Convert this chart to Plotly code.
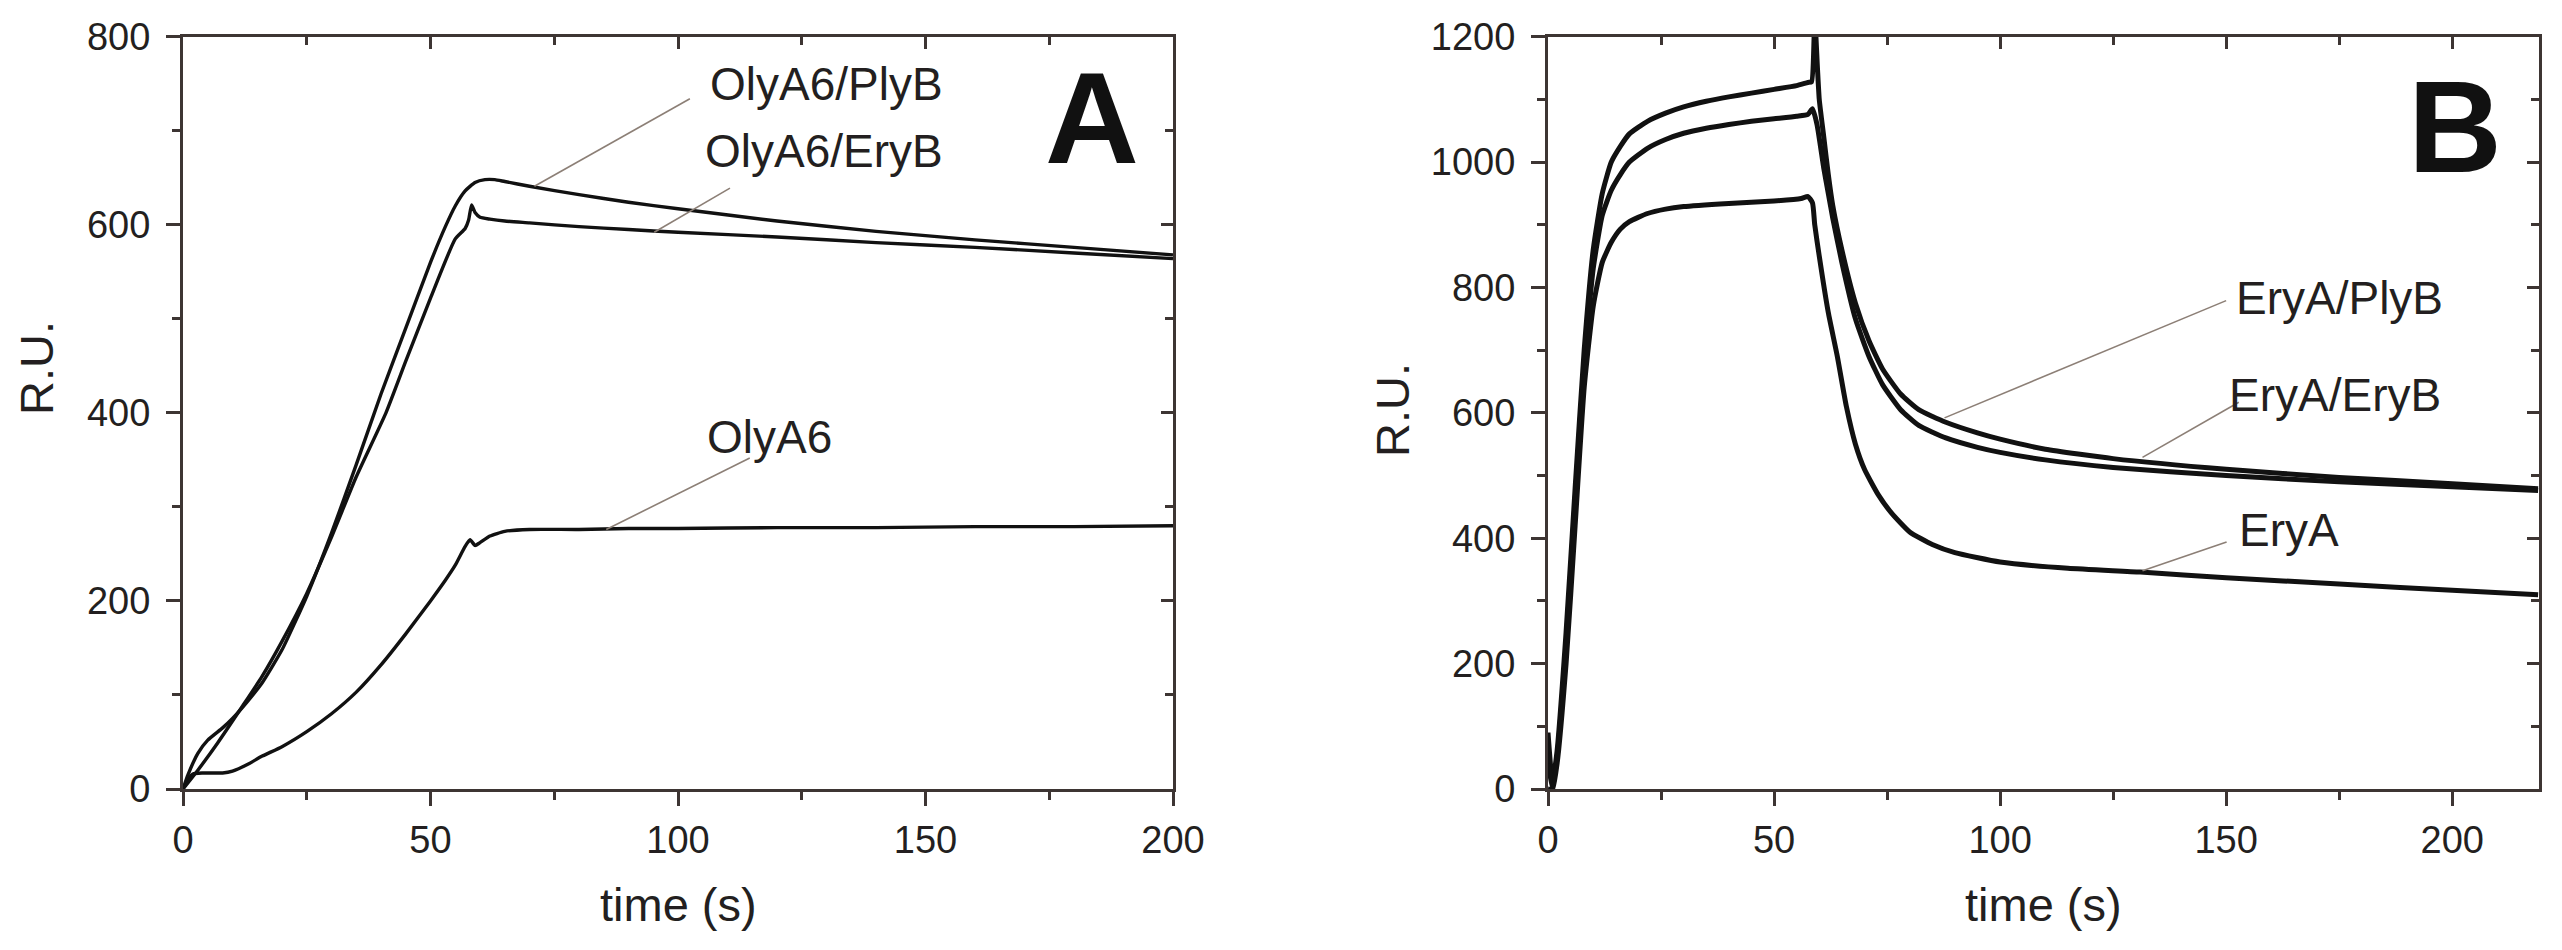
import plotly.graph_objects as go

# ---------------- Panel A data ----------------
a_olya6_t = [0, 1, 2, 4, 6, 8, 10, 13, 16, 20, 25, 30, 35, 40, 45, 50, 53, 55, 57, 58, 59, 60, 62, 65, 70, 80, 90, 100, 120, 140, 160, 180, 200]
a_olya6_y = [0, 10, 16, 17, 17, 17, 19, 26, 35, 45, 61, 80, 103, 132, 165, 200, 222, 238, 258, 265, 259, 262, 269, 274, 276, 276, 277, 277, 278, 278, 279, 279, 280]

a_plyb_t = [0, 1, 3, 5, 8, 10, 13, 16, 20, 25, 30, 35, 40, 45, 50, 53, 55, 57, 59, 61, 63, 65, 70, 80, 90, 100, 120, 140, 160, 180, 200]
a_plyb_y = [0, 15, 38, 52, 65, 75, 93, 113, 148, 205, 272, 345, 420, 490, 560, 598, 620, 636, 645, 648, 648, 646, 641, 632, 624, 617, 604, 593, 584, 576, 568]

a_eryb_t = [0, 3, 7, 12, 16, 20, 25, 30, 35, 41, 45, 50, 55, 57, 57.7, 58.3, 59, 60, 62, 65, 70, 80, 90, 100, 120, 140, 160, 180, 200]
a_eryb_y = [0, 20, 49, 88, 120, 157, 208, 268, 332, 400, 455, 522, 585, 596, 605, 621, 613, 608, 606, 604, 602, 598, 595, 592, 587, 581, 576, 570, 564]

# ---------------- Panel B data ----------------
b_plyb_t = [0, 1, 2, 4, 6, 8, 10, 12, 14, 16, 18, 22, 26, 30, 35, 40, 45, 50, 55, 57.5, 58.3, 59, 59.6, 60, 61, 62, 63, 65, 68, 71, 74, 78, 82, 88, 95, 100, 110, 125, 150, 175, 200, 219]
b_plyb_y = [90, 10, 60, 250, 480, 700, 860, 950, 1000, 1025, 1045, 1065, 1078, 1088, 1097, 1104, 1110, 1116, 1122, 1127, 1128, 1230, 1150, 1100, 1040, 980, 930, 860, 775, 715, 670, 630, 605, 585, 568, 558, 542, 527, 510, 497, 487, 479]

b_eryb_t = [0, 1, 2, 4, 6, 8, 10, 12, 14, 16, 18, 22, 26, 30, 35, 40, 45, 50, 55, 57.5, 58.5, 59.5, 61, 62, 63, 65, 68, 71, 74, 78, 82, 88, 95, 100, 110, 125, 150, 175, 200, 219]
b_eryb_y = [40, 5, 50, 230, 460, 680, 830, 915, 955, 980, 1000, 1022, 1036, 1046, 1054, 1060, 1065, 1069, 1073, 1076, 1085, 1060, 990, 950, 910, 840, 750, 690, 645, 605, 580, 560, 545, 537, 525, 513, 500, 490, 482, 476]

b_erya_t = [0, 1, 2, 4, 6, 8, 10, 12, 14, 16, 18, 22, 26, 30, 40, 50, 56, 57.5, 58.5, 59, 60, 62, 64, 66, 68, 70, 73, 76, 80, 85, 90, 100, 115, 131, 150, 175, 200, 219]
b_erya_y = [0, 0, 40, 200, 420, 640, 770, 840, 872, 893, 905, 918, 925, 929, 934, 938, 942, 945, 935, 900, 850, 760, 690, 610, 550, 510, 470, 440, 410, 390, 377, 362, 352, 346, 337, 327, 317, 310]

# ---------------- Labels ----------------
a_labels = ["OlyA6/PlyB", "OlyA6/EryB", "OlyA6"]
a_label_x = [130, 129.5, 118.5]
a_label_y = [750, 678, 374]
a_leader_x = [[102.4, 71], [110.5, 95.2], [114.5, 85.5]]
a_leader_y = [[734, 641], [639, 592], [352, 276]]

b_labels = ["EryA/PlyB", "EryA/EryB", "EryA"]
b_label_x = [175, 174, 164]
b_label_y = [783, 629, 413]
b_leader_x = [[150, 87.7], [152.8, 131.5], [150.1, 131.5]]
b_leader_y = [[779, 592], [617, 529], [394, 348]]

a_xrange = [0, 200]
a_yrange = [0, 800]
b_xrange = [0, 219.2]
b_yrange = [0, 1200]

W, H = 2562, 950
OFF = 8  # page body margin offset
FONT = "Liberation Sans, Arial, sans-serif"
TXT = "#231f20"
AX = "#3d3533"
LEAD = "#8c7f76"

# pixel layout (page coordinates, converted to figure coords with OFF)
a_x0, a_x1 = 183 - OFF, 1173 - OFF
b_x0, b_x1 = 1548 - OFF, 2539 - OFF
p_top, p_bot = 36.7 - OFF, 789 - OFF

fig = go.Figure()

def add_series(t, y, xa, ya, w):
    fig.add_trace(go.Scatter(x=t, y=y, mode="lines", xaxis=xa, yaxis=ya,
                             line=dict(color="#111111", width=w, shape="spline", smoothing=0.5),
                             hoverinfo="skip", showlegend=False, cliponaxis=True))

add_series(a_olya6_t, a_olya6_y, "x", "y", 3.4)
add_series(a_plyb_t, a_plyb_y, "x", "y", 3.4)
add_series(a_eryb_t, a_eryb_y, "x", "y", 3.4)
add_series(b_plyb_t, b_plyb_y, "x2", "y2", 5)
add_series(b_eryb_t, b_eryb_y, "x2", "y2", 5)
add_series(b_erya_t, b_erya_y, "x2", "y2", 5)

for lx, ly in zip(a_leader_x, a_leader_y):
    fig.add_trace(go.Scatter(x=lx, y=ly, mode="lines", xaxis="x", yaxis="y",
                             line=dict(color=LEAD, width=1.6), hoverinfo="skip", showlegend=False))
for lx, ly in zip(b_leader_x, b_leader_y):
    fig.add_trace(go.Scatter(x=lx, y=ly, mode="lines", xaxis="x2", yaxis="y2",
                             line=dict(color=LEAD, width=1.6), hoverinfo="skip", showlegend=False))

# empty traces so mirror axes render
for xa, ya in [("x3", "y"), ("x", "y3"), ("x4", "y2"), ("x2", "y4")]:
    fig.add_trace(go.Scatter(x=[None], y=[None], xaxis=xa, yaxis=ya, showlegend=False, hoverinfo="skip"))

ydom = [(H - p_bot) / H, (H - p_top) / H]
adom = [a_x0 / W, a_x1 / W]
bdom = [b_x0 / W, b_x1 / W]

tickfont = dict(family=FONT, size=38, color=TXT)

def main_axis(rng, dom, anchor, dtick, minor, **kw):
    return dict(range=rng, domain=dom, anchor=anchor, showgrid=False, zeroline=False,
                automargin=False,
                showline=True, linecolor=AX, linewidth=3,
                ticks="outside", ticklen=14, tickwidth=3, tickcolor=AX,
                tick0=0, dtick=dtick, tickfont=tickfont,
                minor=dict(dtick=minor, tick0=0, ticks="outside", ticklen=8, tickwidth=2.5, tickcolor=AX, showgrid=False),
                **kw)

def mirror_axis(rng, overlay, anchor, side, dtick, minor):
    return dict(range=rng, overlaying=overlay, anchor=anchor, side=side, showgrid=False, zeroline=False,
                automargin=False,
                showline=True, linecolor=AX, linewidth=3, showticklabels=False,
                ticks="inside", ticklen=12, tickwidth=2.5, tickcolor=AX, tick0=0, dtick=dtick,
                minor=dict(dtick=minor, tick0=0, ticks="inside", ticklen=8, tickwidth=2.5, tickcolor=AX, showgrid=False))

fig.update_layout(
    width=W, height=H, autosize=False,
    margin=dict(l=0, r=0, t=0, b=0, pad=0, autoexpand=False),
    paper_bgcolor="white", plot_bgcolor="white",
    showlegend=False,
    xaxis=main_axis(a_xrange, adom, "y", 50, 25, ticklabelstandoff=1),
    yaxis=main_axis(a_yrange, ydom, "x", 200, 100, ticklabelstandoff=8),
    xaxis2=main_axis(b_xrange, bdom, "y2", 50, 25, ticklabelstandoff=1),
    yaxis2=main_axis(b_yrange, ydom, "x2", 200, 100, ticklabelstandoff=8),
    xaxis3=mirror_axis(a_xrange, "x", "y", "top", 50, 25),
    yaxis3=mirror_axis(a_yrange, "y", "x", "right", 200, 100),
    xaxis4=mirror_axis(b_xrange, "x2", "y2", "top", 50, 25),
    yaxis4=mirror_axis(b_yrange, "y2", "x2", "right", 200, 100),
)

annos = []
lab_font = dict(family=FONT, size=46, color=TXT)
for txt, x, y in zip(a_labels, a_label_x, a_label_y):
    annos.append(dict(text=txt, x=x, y=y, xref="x", yref="y", showarrow=False,
                      xanchor="center", yanchor="middle", font=lab_font))
for txt, x, y in zip(b_labels, b_label_x, b_label_y):
    annos.append(dict(text=txt, x=x, y=y, xref="x2", yref="y2", showarrow=False,
                      xanchor="center", yanchor="middle", font=lab_font))

big = dict(family=FONT, size=130, color="#111111")
annos.append(dict(text="<b>A</b>", x=(1092 - OFF - a_x0) / (a_x1 - a_x0), y=1 - (118 - OFF - p_top) / (p_bot - p_top),
                  xref="x domain", yref="y domain", showarrow=False, xanchor="center", yanchor="middle", font=big))
annos.append(dict(text="<b>B</b>", x=(2455 - OFF - b_x0) / (b_x1 - b_x0), y=1 - (127 - OFF - p_top) / (p_bot - p_top),
                  xref="x2 domain", yref="y2 domain", showarrow=False, xanchor="center", yanchor="middle", font=big))

title_font = dict(family=FONT, size=47, color=TXT)
annos.append(dict(text="time (s)", x=(a_x0 + a_x1) / 2 / W, y=1 - (904 - OFF) / H, xref="paper", yref="paper",
                  showarrow=False, xanchor="center", yanchor="middle", font=title_font))
annos.append(dict(text="time (s)", x=(b_x0 + b_x1) / 2 / W, y=1 - (904 - OFF) / H, xref="paper", yref="paper",
                  showarrow=False, xanchor="center", yanchor="middle", font=title_font))
annos.append(dict(text="R.U.", x=(36 - OFF) / W, y=1 - (368 - OFF) / H, xref="paper", yref="paper", textangle=-90,
                  showarrow=False, xanchor="center", yanchor="middle", font=title_font))
annos.append(dict(text="R.U.", x=(1392 - OFF) / W, y=1 - (410 - OFF) / H, xref="paper", yref="paper", textangle=-90,
                  showarrow=False, xanchor="center", yanchor="middle", font=title_font))

fig.update_layout(annotations=annos)

fig.write_html("out.html")
